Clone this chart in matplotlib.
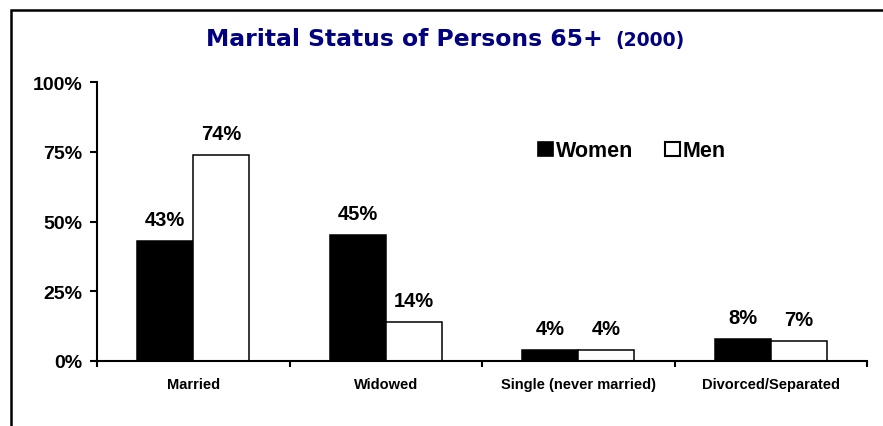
import matplotlib
matplotlib.use("Agg")
import matplotlib.pyplot as plt
import numpy as np
from matplotlib.patches import Rectangle, Patch

# chart data
categories = ["Married", "Widowed", "Single (never married)", "Divorced/Separated"]
women = [43, 45, 4, 8]
men = [74, 14, 4, 7]
y_ticks = [0, 25, 50, 75, 100]

plt.rcParams["font.family"] = ["Liberation Sans", "DejaVu Sans"]
plt.rcParams["font.weight"] = "bold"

W, H = 883, 427
fig = plt.figure(figsize=(W / 100, H / 100), dpi=100)
ax = fig.add_axes([97 / W, 1 - 362 / H, (867 - 97) / W, (362 - 83) / H])

x = np.arange(len(categories))
bw = 0.29
b1 = ax.bar(x - bw / 2, women, bw, color="black", edgecolor="black", linewidth=1.1, label="Women")
b2 = ax.bar(x + bw / 2, men, bw, color="white", edgecolor="black", linewidth=1.1, label="Men")

for bars, vals in ((b1, women), (b2, men)):
    for rect, v in zip(bars, vals):
        ax.annotate(f"{v}%", (rect.get_x() + rect.get_width() / 2, v),
                    xytext=(0, 11.5), textcoords="offset points",
                    ha="center", va="baseline", fontsize=14.5, fontweight="bold")

ax.set_xlim(-0.5, len(categories) - 0.5)
ax.set_ylim(0, 100)
ax.set_yticks(y_ticks)
ax.set_yticklabels([f"{t}%" for t in y_ticks], fontsize=14, fontweight="bold")

# boundary ticks (major) and category labels (minor)
ax.set_xticks(np.arange(-0.5, len(categories), 1.0))
ax.set_xticklabels([])
ax.set_xticks(x, minor=True)
ax.set_xticklabels(categories, minor=True, fontsize=10.5, fontweight="bold")
ax.tick_params(axis="x", which="major", length=4.5, width=1.5, direction="out")
ax.tick_params(axis="x", which="minor", length=0, pad=11.5)
ax.tick_params(axis="y", length=5, width=1.5, pad=5.5)

for s in ("top", "right"):
    ax.spines[s].set_visible(False)
for s in ("left", "bottom"):
    ax.spines[s].set_linewidth(1.5)

# legend
handles = [Patch(facecolor="black", edgecolor="black", linewidth=1.2),
           Patch(facecolor="white", edgecolor="black", linewidth=1.5)]
fig.legend(handles, ["Women", "Men"], loc="center left",
           bbox_to_anchor=(538 / W, 1 - 152 / H), ncol=2, frameon=False,
           prop={"size": 15.5, "weight": "bold"}, handlelength=0.7, handleheight=0.6,
           handletextpad=0.12, columnspacing=1.5, borderpad=0, borderaxespad=0)

# title in two parts
navy = "#000080"
fig.text(603 / W, 1 - 46 / H, "Marital Status of Persons 65+", ha="right", va="baseline",
         fontsize=16.9, fontweight="bold", color=navy, family="DejaVu Sans")
fig.text(615 / W, 1 - 46 / H, "(2000)", ha="left", va="baseline",
         fontsize=13.5, fontweight="bold", color=navy, family="DejaVu Sans")

# outer frame (cropped on right and bottom)
fig.add_artist(Rectangle((10.5 / W, -0.2), 1.2, 1.2 - 11 / H, transform=fig.transFigure,
                         fill=False, edgecolor="black", linewidth=1.8))

fig.savefig("out.png", dpi=100)
